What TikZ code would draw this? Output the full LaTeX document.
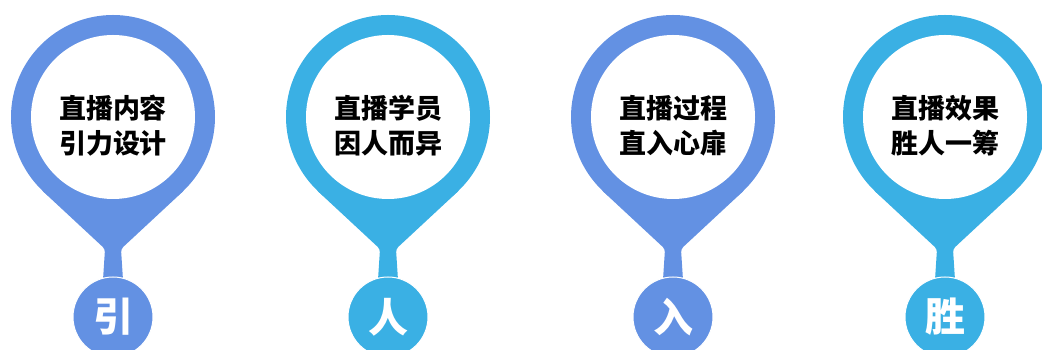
\documentclass[tikz,border=0pt]{standalone}
\usepackage{fontspec}
\newfontfamily\cjk{Noto Sans CJK SC}
\definecolor{pinA}{RGB}{99,145,227}
\definecolor{pinB}{RGB}{58,176,228}
\begin{document}
\begin{tikzpicture}[x=1pt,y=1pt,
  ring/.style={circle,inner sep=0pt,minimum size=204pt},
  face/.style={circle,fill=white,inner sep=0pt,minimum size=164pt},
  caption/.style={align=center,font=\cjk\bfseries\fontsize{27}{35}\selectfont,text=black},
  badge/.style={circle,draw=white,line width=1pt,inner sep=0pt,minimum size=80pt,text=white,font=\cjk\bfseries\fontsize{40}{40}\selectfont}]
\useasboundingbox (0,0) rectangle (1042,350);
\foreach \cx/\col/\nm/\ta/\tb/\ch in {113/pinA/yin/直播内容/引力设计/引,388/pinB/ren/直播学员/因人而异/人,673/pinA/ru/直播过程/直入心扉/入,945/pinB/sheng/直播效果/胜人一筹/胜}{
\node[ring,fill=\col] (\nm-ring) at (\cx,233) {};
\fill[\col,rounded corners=3pt] (\nm-ring.225) -- (\cx-8,101) -- (\cx-10,70) -- (\cx+10,70) -- (\cx+8,101) -- (\nm-ring.-45) -- cycle;
\node[face] (\nm-face) at (\nm-ring.center) {};
\node[caption] (\nm-txt) at ([yshift=-9pt]\nm-face.center) {\ta\\\tb};
\node[badge,fill=\col] (\nm-badge) at (\cx,33) {\ch};
}
\end{tikzpicture}
\end{document}
